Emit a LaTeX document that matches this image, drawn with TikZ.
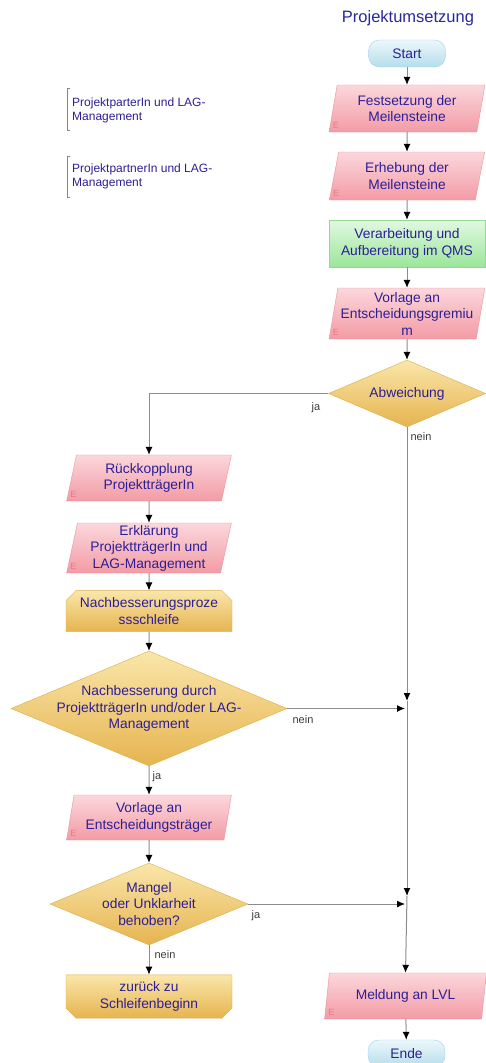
\documentclass[tikz,border=0pt]{standalone}
\usepackage{fontspec}
\setmainfont{Liberation Sans}
\usetikzlibrary{shapes.geometric,shapes.misc,arrows.meta,calc}
\definecolor{txt}{RGB}{45,30,150}
\definecolor{ttl}{RGB}{40,40,160}
\definecolor{lineg}{RGB}{140,140,140}
\definecolor{pinkb}{RGB}{238,145,155}
\definecolor{pinkt}{RGB}{251,215,220}
\definecolor{pinkd}{RGB}{243,155,165}
\definecolor{greenb}{RGB}{150,215,150}
\definecolor{greent}{RGB}{225,248,225}
\definecolor{greend}{RGB}{155,230,155}
\definecolor{yelb}{RGB}{215,175,70}
\definecolor{yelt}{RGB}{250,230,170}
\definecolor{yeld}{RGB}{230,180,80}
\definecolor{blueb}{RGB}{165,210,228}
\definecolor{bluet}{RGB}{236,247,251}
\definecolor{blued}{RGB}{180,222,236}
\definecolor{emk}{RGB}{240,120,130}
\definecolor{lbl}{RGB}{60,60,60}
\definecolor{brk}{RGB}{130,130,160}
\begin{document}
\begin{tikzpicture}[x=1pt,y=-1pt,
  box/.style={font=\fontsize{13.8}{16.5}\selectfont, text=txt, align=center, inner sep=2pt},
  para/.style={box, trapezium, trapezium left angle=79, trapezium right angle=101,
     trapezium stretches=true, draw=pinkb, top color=pinkt, bottom color=pinkd,
     minimum width=156, minimum height=47},
  procbox/.style={box, rectangle, draw=greenb, top color=greent, bottom color=greend,
     minimum width=156, minimum height=47},
  loopbox/.style={box, chamfered rectangle, chamfered rectangle sep=5pt, draw=yelb,
     top color=yelt, bottom color=yeld, minimum width=166, minimum height=35},
  term/.style={box, rectangle, rounded corners=11pt, draw=blueb, top color=bluet,
     bottom color=blued, minimum width=77, minimum height=27},
  dia/.style={diamond, draw=yelb, top color=yelt, bottom color=yeld, inner sep=0pt},
  dtext/.style={box},
  emark/.style={font=\fontsize{9}{9}\selectfont, text=emk, inner sep=0pt},
  lab/.style={font=\fontsize{11}{12}\selectfont, text=lbl, inner sep=0pt},
  anntext/.style={font=\fontsize{12}{14}\selectfont, text=txt, align=left, inner sep=0pt, anchor=west},
  flow/.style={draw=lineg, line width=1pt, -{Latex[length=8pt,width=7pt,color=black]}},
  plain/.style={draw=lineg, line width=1pt}
]
\useasboundingbox (0,0) rectangle (486,1063);

% title
\node[font=\fontsize{16.5}{18}\selectfont, text=ttl, inner sep=0pt] (title) at (408,18) {Projektumsetzung};

% annotations
\draw[brk, line width=0.7pt] (70,88) -- (67,88) -- (67,130) -- (70,130);
\node[anntext] (ann1) at (72,110) {ProjektparterIn und LAG-\\Management};
\draw[brk, line width=0.7pt] (70,156) -- (67,156) -- (67,197) -- (70,197);
\node[anntext] (ann2) at (72,176.5) {ProjektpartnerIn und LAG-\\Management};

% main column
\node[term] (start) at (407,53.5) {Start};
\node[para] (fest) at (407,108.5) {Festsetzung der\\Meilensteine};
\node[para, minimum height=48] (erh) at (407,176) {Erhebung der\\Meilensteine};
\node[procbox] (verarb) at (407,243.5) {Verarbeitung und\\Aufbereitung im QMS};
\node[para, minimum height=51, inner sep=0pt] (vorl) at (407,313.5) {Vorlage an\\Entscheidungsgremiu\\m};
\node[dia, minimum width=157, minimum height=67] (abw) at (407,393.5) {};
\node[dtext] (abwt) at (abw.center) {Abweichung};

% left column
\node[para, minimum width=165, minimum height=46] (rueck) at (149,478) {Rückkopplung\\ProjektträgerIn};
\node[para, minimum width=165, minimum height=50, inner sep=0pt] (erkl) at (149,548) {Erklärung\\ProjektträgerIn und\\LAG-Management};
\node[loopbox, chamfered rectangle corners={north west,north east}] (loop1) at (149,611) {Nachbesserungsproze\\ssschleife};
\node[dia, minimum width=276, minimum height=115] (nach) at (149,708.5) {};
\node[dtext] (nacht) at (nach.center) {Nachbesserung durch\\ProjektträgerIn und/oder LAG-\\Management};
\node[para, minimum width=165, minimum height=45] (vet) at (149,817.5) {Vorlage an\\Entscheidungsträger};
\node[dia, minimum width=198, minimum height=82] (mang) at (149,904) {};
\node[dtext] (mangt) at (mang.center) {Mangel\\oder Unklarheit\\behoben?};
\node[loopbox, chamfered rectangle corners={south west,south east}] (zur) at (149,996.5) {zurück zu\\Schleifenbeginn};

\node[para, minimum width=162, minimum height=46] (meld) at (405.5,996) {Meldung an LVL};
\node[term, minimum width=77] (ende) at (406.5,1053.5) {Ende};

% E markers
\foreach \n in {fest,erh,vorl,rueck,erkl,vet,meld}{
  \node[emark] (e\n) at ($(\n.bottom left corner)+(7,-7)$) {E};
}

% junction coordinates
\coordinate (j1) at (407,701);
\coordinate (k1) at (405,708.5);
\coordinate (j2) at (407,896);
\coordinate (k2) at (405,904);

% connectors
\draw[flow] (start) -- (fest);
\draw[flow] (fest) -- (erh);
\draw[flow] (erh) -- (verarb);
\draw[flow] (verarb) -- (vorl);
\draw[flow] (vorl) -- (abw);
\draw[flow] (abw.west) -| (rueck.north);
\draw[flow] (abw.south) -- (j1);
\draw[flow] (j1) -- (j2);
\draw[flow] (j2) -- (meld.north);
\draw[flow] (rueck) -- (erkl);
\draw[flow] (erkl) -- (loop1);
\draw[flow] (loop1) -- (nach);
\draw[flow] (nach.east) -- (k1);
\draw[flow] (nach.south) -- (vet.north);
\draw[flow] (vet) -- (mang);
\draw[flow] (mang.east) -- (k2);
\draw[flow] (mang.south) -- (zur.north);
\draw[flow] (meld) -- (ende);

% labels
\node[lab] (l1) at (316,408) {ja};
\node[lab] (l2) at (421,437) {nein};
\node[lab] (l3) at (303,720) {nein};
\node[lab] (l4) at (157,777) {ja};
\node[lab] (l5) at (256,916) {ja};
\node[lab] (l6) at (165,955) {nein};
\end{tikzpicture}
\end{document}
